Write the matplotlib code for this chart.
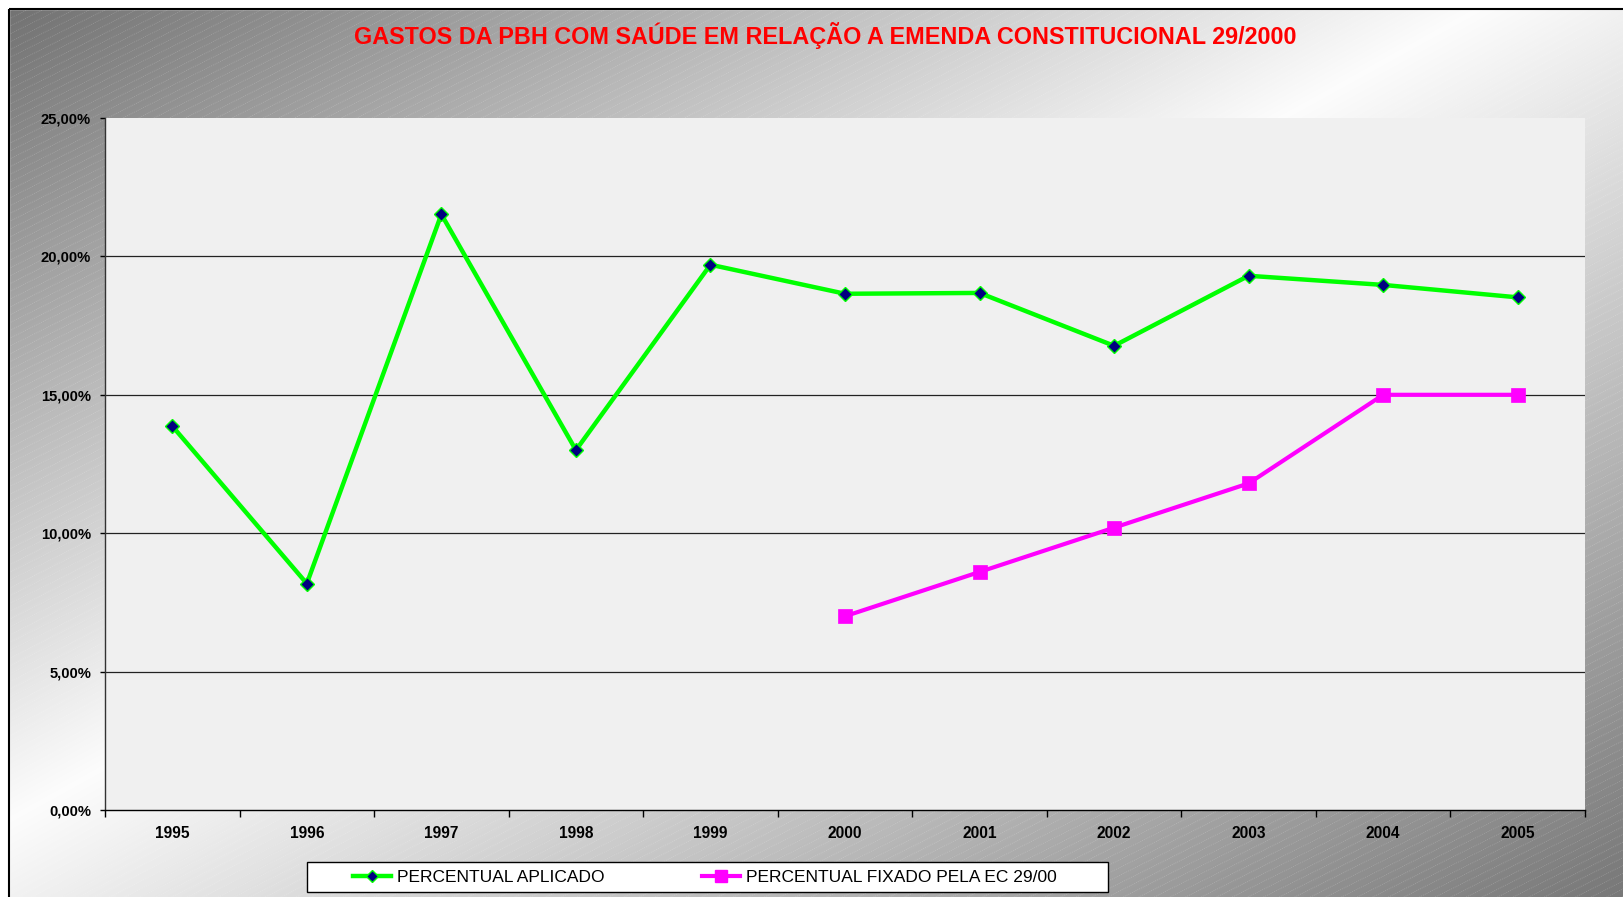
import numpy as np
import matplotlib
matplotlib.use('Agg')
import matplotlib.pyplot as plt
from matplotlib.collections import LineCollection
from matplotlib.patches import Rectangle
from matplotlib.lines import Line2D

# ---- data ----
years = ['1995', '1996', '1997', '1998', '1999', '2000', '2001', '2002', '2003', '2004', '2005']
aplicado = [13.87, 8.18, 21.52, 13.00, 19.70, 18.65, 18.68, 16.77, 19.30, 18.97, 18.52]
fixado_years = ['2000', '2001', '2002', '2003', '2004', '2005']
fixado = [7.0, 8.6, 10.2, 11.8, 15.0, 15.0]
yticks = [0, 5, 10, 15, 20, 25]
gridlines = [5, 10, 15, 20]
title = 'GASTOS DA PBH COM SAÚDE EM RELAÇÃO A EMENDA CONSTITUCIONAL 29/2000'
series_labels = ['PERCENTUAL APLICADO', 'PERCENTUAL FIXADO PELA EC 29/00']

plt.rcParams['font.family'] = ['Liberation Sans', 'DejaVu Sans']

W, H = 1624, 897
fig = plt.figure(figsize=(W / 100, H / 100), dpi=100)

# ---- background (gradient + diagonal hatch) ----
bg = fig.add_axes([0, 0, 1, 1], zorder=-10)
bg.set_xlim(0, W)
bg.set_ylim(H, 0)
bg.axis('off')
xx, yy = np.meshgrid(np.linspace(0, 1, 500), np.linspace(0, 1, 300))
t = (xx + yy) / 2
val = np.interp(t, [0, 0.46, 1.0], [0.44, 0.99, 0.47])
bg.imshow(np.dstack([val] * 3), extent=(0, W, H, 0), aspect='auto',
          interpolation='bilinear', zorder=0)
segs = [[(0, c), (W, c - 0.5 * W)] for c in np.arange(0, H + 0.5 * W + 10, 7.8)]
bg.add_collection(LineCollection(segs, colors=[(1, 1, 1, 0.2)], linewidths=0.6,
                                 linestyles=[(0, (1.2, 1.2))], zorder=1))
bg.add_patch(Rectangle((0, 0), W, 9.5, color='white', zorder=3))
bg.add_patch(Rectangle((0, 0), 9.5, H, color='white', zorder=3))
bg.plot([9.5, W], [9.5, 9.5], color='black', lw=1.5, zorder=4, solid_capstyle='butt')
bg.plot([9.5, 9.5], [9.5, H], color='black', lw=1.5, zorder=4, solid_capstyle='butt')
# legend frame
bg.add_patch(Rectangle((307, 862), 801, 30, facecolor='white', edgecolor='black',
                       lw=1.0, zorder=5))

# ---- title ----
fig.text(825.5 / W, 1 - 44 / H, title, ha='center', va='baseline', color='#FF0000',
         fontsize=16.8, fontweight='bold')

# ---- main axes ----
ax = fig.add_axes([105 / W, 1 - 810 / H, (1585 - 105) / W, (810 - 118) / H])
ax.set_facecolor('#F0F0F0')
x = np.arange(len(years))
ax.plot(x, aplicado, color='#00FF00', lw=3.2, marker='D', ms=7.5,
        mfc='#000080', mec='#00FF00', mew=1.0, zorder=4)
xf = [years.index(y) for y in fixado_years]
ax.plot(xf, fixado, color='#FF00FF', lw=3.0, marker='s', ms=10.5,
        mfc='#FF00FF', mec='#FF00FF', mew=0.5, zorder=4)
for g in gridlines:
    ax.axhline(g, color='#222222', lw=0.9, zorder=2)

ax.set_xlim(-0.5, len(years) - 0.5)
ax.set_ylim(0, 25)
ax.set_yticks(yticks)
ax.set_yticklabels([('%.2f' % v).replace('.', ',') + '%' for v in yticks],
                   fontsize=10.6, fontweight='bold')
ax.set_xticks(np.arange(-0.5, len(years), 1))
ax.set_xticklabels([])
ax.set_xticks(x, minor=True)
ax.set_xticklabels(years, minor=True, fontsize=11.2, fontweight='bold')
ax.tick_params(axis='x', which='major', length=5, width=1, color='black', direction='out')
ax.tick_params(axis='x', which='minor', length=0, pad=11.2)
ax.tick_params(axis='y', length=3.6, width=1, color='black', pad=6.5)
for s in ['top', 'right']:
    ax.spines[s].set_visible(False)
ax.spines['left'].set_color('#333333')
ax.spines['bottom'].set_color('black')
ax.spines['left'].set_linewidth(1.0)
ax.spines['bottom'].set_linewidth(1.0)

# ---- legend ----
handles = [
    Line2D([], [], color='#00FF00', lw=3.2, marker='D', ms=6.5, mfc='#000080',
           mec='#00FF00', mew=1.0),
    Line2D([], [], color='#FF00FF', lw=3.0, marker='s', ms=9, mfc='#FF00FF',
           mec='#FF00FF'),
]
fig.legend(handles, series_labels, loc='center left',
           bbox_to_anchor=(353 / W, 1 - 877 / H), ncol=2, frameon=False,
           prop={'size': 12.5}, handlelength=38 / 17.3, handletextpad=0.35,
           columnspacing=5.6, borderpad=0, borderaxespad=0)

fig.savefig('out.png', dpi=100)
